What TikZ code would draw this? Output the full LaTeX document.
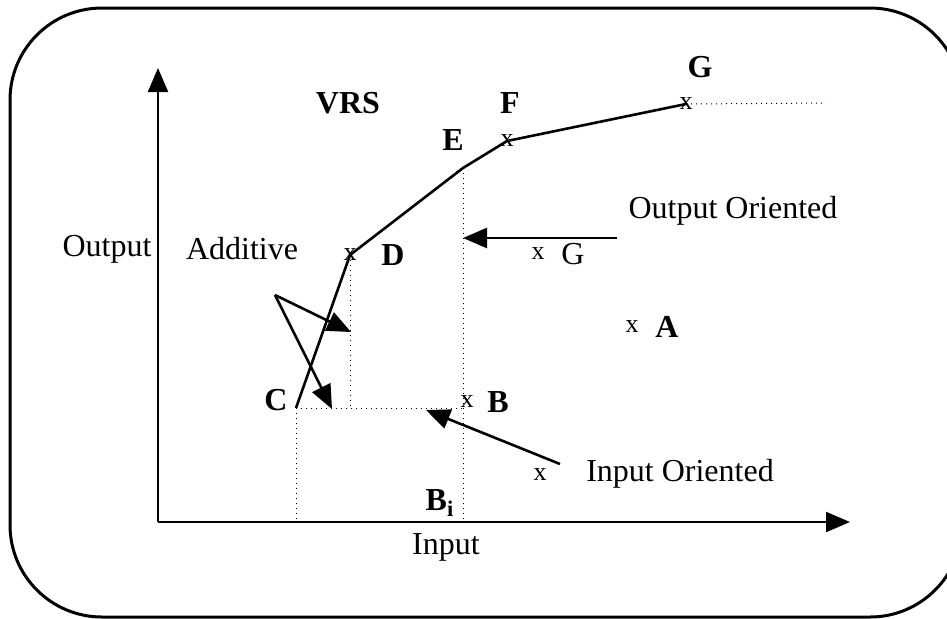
\documentclass[tikz,border=0pt]{standalone}
\usepackage{fontspec}
\setmainfont{Liberation Serif}
\usetikzlibrary{arrows.meta}
\tikzset{
  frame/.style={line width=1.5pt, rounded corners=46pt},
  axarr/.style={-{Triangle[length=12pt,width=10pt]}, line width=1.1pt},
  darr/.style={-{Triangle[length=12pt,width=10pt]}, line width=1.3pt},
  front/.style={line width=1.3pt},
  vline/.style={dotted, line width=0.5pt},
  lbl/.style={font=\fontsize{16}{18}\selectfont, inner sep=0pt},
  blbl/.style={font=\fontsize{16}{18}\selectfont\bfseries, inner sep=0pt},
  xpt/.style={font=\fontsize{13}{15}\selectfont, inner sep=0pt},
}
\begin{document}
\begin{tikzpicture}[x=0.5pt,y=-0.5pt]
  \useasboundingbox (0,0) rectangle (947,618);
  \draw[frame] (10,8) rectangle (962,617);
  % axes
  \coordinate (O) at (158,522);
  \coordinate (ytop) at (158,68);
  \coordinate (xend) at (850,522);
  \draw[axarr] (O) -- (ytop);
  \draw[axarr] (O) -- (xend);
  % frontier points
  \coordinate (C) at (296,408);
  \coordinate (D) at (350,255);
  \coordinate (E) at (463,168);
  \coordinate (F) at (507,141);
  \coordinate (G) at (686,104);
  \coordinate (Gend) at (826,103);
  \coordinate (B) at (463,408);
  \draw[front] (C) -- (D) -- (E) -- (F) -- (G);
  \draw[vline] (G) -- (Gend);
  \draw[vline] (C) -- (B);
  \draw[vline] (C) -- (C |- O);
  \draw[vline] (D) -- (D |- C);
  \draw[vline] (E) -- (E |- O);
  % markers
  \node[xpt] (xD) at (D) {x};
  \node[xpt] (xF) at (F) {x};
  \node[xpt] (xG) at (G) {x};
  \node[xpt] (xB) at (467,402) {x};
  \node[xpt] (xGin) at (538,254) {x};
  \node[xpt] (xA) at (632,327) {x};
  \node[xpt] (xI) at (540,475) {x};
  % labels
  \node[lbl] (out) at (107,249) {Output};
  \node[lbl] (inp) at (446,547) {Input};
  \node[lbl] (add) at (242,249) {Additive};
  \node[blbl] (vrs) at (348,103) {VRS};
  \node[blbl] (lE) at (453,140) {E};
  \node[blbl] (lF) at (510,103) {F};
  \node[blbl] (lG) at (700,67) {G};
  \node[blbl] (lC) at (276,400) {C};
  \node[blbl] (lD) at (393,255) {D};
  \node[blbl] (lB) at (498,402) {B};
  \node[blbl] (lBi) at (440,503) {B\textsubscript{i}};
  \node[lbl] (lGin) at (573,254) {G};
  \node[blbl] (lA) at (667,327) {A};
  \node[lbl] (oo) at (733,211) {Output Oriented};
  \node[lbl] (io) at (680,474) {Input Oriented};
  % projections
  \coordinate (ootail) at (617,238);
  \draw[darr] (ootail) -- (E |- ootail);
  \coordinate (iotail) at (560,464);
  \coordinate (iotip) at (426,410);
  \draw[darr] (iotail) -- (iotip);
  \coordinate (addap) at (275,295);
  \coordinate (addtip1) at (351,332);
  \coordinate (addtip2) at (332,409);
  \draw[darr] (addap) -- (addtip1);
  \draw[darr] (addap) -- (addtip2);
\end{tikzpicture}
\end{document}
